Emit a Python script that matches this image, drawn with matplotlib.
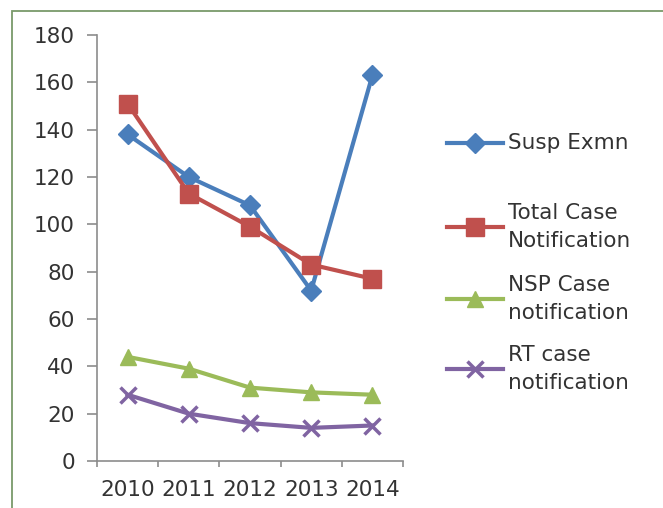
import matplotlib
matplotlib.use("Agg")
import matplotlib.pyplot as plt
from matplotlib.lines import Line2D
from matplotlib.patches import Rectangle

years = ["2010", "2011", "2012", "2013", "2014"]
susp_exmn = [138, 120, 108, 72, 163]
total_case = [151, 113, 99, 83, 77]
nsp_case = [44, 39, 31, 29, 28]
rt_case = [28, 20, 16, 14, 15]

labels = ["Susp Exmn", "Total Case\nNotification", "NSP Case\nnotification", "RT case\nnotification"]
colors = ["#4a7ebb", "#c0504d", "#9bbb59", "#8064a2"]
markers = ["D", "s", "^", "x"]
msizes = [10, 13, 11, 11]

plt.rcParams["font.family"] = ["DejaVu Sans"]
txt = "#333333"
axc = "#8c8c8c"

fig = plt.figure(figsize=(6.63, 5.08), dpi=100)
ax = fig.add_axes([97 / 663, 1 - 461 / 508, 306 / 663, 426 / 508])

x = list(range(len(years)))
series = [susp_exmn, total_case, nsp_case, rt_case]
for vals, c, m, ms in zip(series, colors, markers, msizes):
    ax.plot(x, vals, color=c, lw=3, marker=m, ms=ms, mew=2.5 if m == "x" else 1, mec=c, mfc=c)

ax.set_xlim(-0.5, 4.5)
ax.set_ylim(0, 180)
ax.set_yticks(range(0, 181, 20))
ax.set_xticks(x)
ax.set_xticklabels(years)
ax.set_xticks([i - 0.5 for i in range(6)], minor=True)
ax.tick_params(axis="x", which="major", length=0, pad=14, labelsize=15.5, labelcolor=txt)
ax.tick_params(axis="x", which="minor", length=4, width=1.2, color=axc, direction="out")
ax.tick_params(axis="y", length=7, width=1.2, color=axc, direction="out", pad=9, labelsize=15.5, labelcolor=txt)
for s in ["top", "right"]:
    ax.spines[s].set_visible(False)
for s in ["left", "bottom"]:
    ax.spines[s].set_color(axc)
    ax.spines[s].set_linewidth(1.2)

# legend drawn by hand to match the uneven spacing
leg_y = [143, 227, 299, 369]
for lab, c, m, ms, yy in zip(labels, colors, markers, msizes, leg_y):
    yf = 1 - yy / 508
    fig.add_artist(Line2D([447 / 663, 475 / 663, 503 / 663], [yf, yf, yf], transform=fig.transFigure,
                          color=c, lw=3, marker=m, ms=ms, markevery=[1], mec=c, mfc=c,
                          mew=2.5 if m == "x" else 1))
    fig.text(508 / 663, yf, lab, fontsize=15.5, color=txt, va="center", ha="left", linespacing=1.45)

fig.add_artist(Rectangle((12 / 663, -0.1), 2, 1.1 - 11 / 508, transform=fig.transFigure,
                         fill=False, ec="#7a9a6a", lw=1.3))

fig.savefig("out.png", dpi=100)
